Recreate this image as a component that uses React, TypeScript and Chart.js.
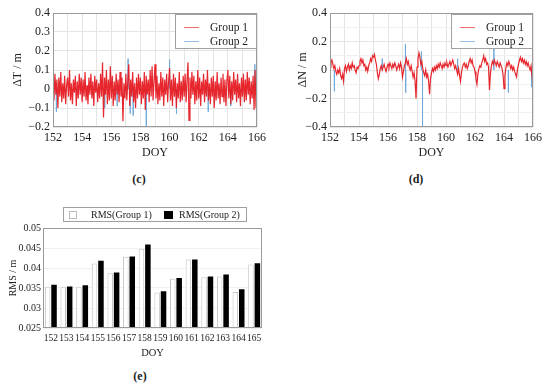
import React, { useEffect, useRef } from "react";
import { Chart, registerables } from "chart.js";

Chart.register(...registerables);

// ---------- Data ----------
const doyStart = 152;
const doyEnd = 166;
const samplesPerDay = 15;

// (c) ΔT, Group 1 (one value per 1/15 day, DOY 152.0 … 166.0)
const dT_group1: number[] = [
  0.04, -0.06, 0.08, -0.03, 0.05, -0.10, 0.06, -0.04, 0.09, -0.07, 0.03, -0.05, 0.07, -0.08, 0.02,
  0.06, -0.04, 0.10, -0.06, 0.03, -0.08, 0.05, -0.02, 0.07, -0.09, 0.04, -0.05, 0.08, -0.03, 0.06,
  -0.07, 0.05, -0.04, 0.09, -0.06, 0.02, -0.08, 0.06, -0.03, 0.08, -0.05, 0.04, -0.09, 0.07, -0.02,
  0.05, -0.07, 0.03, -0.05, 0.08, -0.04, 0.14, -0.15, 0.06, -0.03, 0.10, -0.08, 0.05, -0.06, 0.12,
  -0.05, 0.07, -0.09, 0.04, -0.06, 0.08, -0.03, 0.05, -0.07, 0.09, -0.04, 0.06, -0.17, 0.03, -0.05,
  0.08, -0.06, 0.04, 0.13, -0.09, 0.05, -0.04, 0.09, -0.07, 0.03, -0.10, 0.06, -0.05, 0.08, -0.03,
  0.06, -0.08, 0.04, -0.05, 0.09, -0.11, 0.07, -0.03, 0.05, -0.07, 0.10, -0.04, 0.12, -0.06, 0.04,
  0.13, -0.05, 0.07, -0.08, 0.03, -0.06, 0.09, -0.04, 0.06, -0.09, 0.05, -0.03, 0.08, -0.07, 0.04,
  0.11, -0.06, 0.05, -0.09, 0.08, -0.04, 0.06, -0.10, 0.03, -0.05, 0.09, -0.07, 0.04, -0.06, 0.07,
  -0.04, 0.08, -0.07, 0.05, 0.14, -0.165, 0.06, -0.05, 0.09, -0.03, 0.07, -0.08, 0.04, -0.06, 0.10,
  -0.05, 0.06, -0.09, 0.04, -0.03, 0.08, -0.07, 0.05, -0.04, 0.10, -0.06, 0.03, -0.08, 0.06, -0.04,
  0.07, -0.10, 0.04, -0.06, 0.09, -0.05, 0.03, -0.08, 0.06, -0.04, 0.08, -0.07, 0.05, -0.09, 0.04,
  0.10, -0.05, 0.07, -0.08, 0.04, -0.06, 0.09, -0.03, 0.05, -0.07, 0.08, -0.05, 0.03, -0.09, 0.06,
  -0.04, 0.08, -0.07, 0.05, -0.06, 0.09, -0.03, 0.06, -0.08, 0.04, -0.05, 0.07, -0.11, 0.10, -0.10,
  0.05,
];

// (c) ΔT, Group 2 — only the excursions that show beyond Group 1
const dT_group2_doy: number[] = [152.23, 155.55, 156.4, 157.15, 157.3, 157.5, 158.4, 160.0, 160.47, 162.65, 164.2, 165.85];
const dT_group2_val: number[] = [-0.12, -0.1, -0.09, 0.16, -0.13, -0.14, -0.2, 0.155, -0.13, -0.12, -0.09, 0.13];

// (d) ΔN, Group 1
const dN_group1: number[] = [
  0.02, 0.05, 0.07, 0.04, 0.01, 0.03, -0.01, -0.03, 0.00, -0.02, 0.01, -0.04, -0.06, -0.03, -0.08,
  0.01, 0.03, -0.01, 0.02, 0.04, 0.00, 0.03, 0.01, 0.05, 0.02, 0.03, 0.00, -0.02, 0.02, 0.01,
  0.03, 0.06, 0.08, 0.05, 0.07, 0.03, 0.04, 0.00, 0.02, -0.01, 0.03, 0.05, 0.08, 0.06, 0.10,
  0.09, 0.11, 0.07, 0.04, -0.02, -0.06, -0.03, 0.01, 0.03, 0.00, 0.02, 0.04, 0.01, -0.01, 0.02,
  0.04, 0.02, 0.05, 0.03, 0.01, 0.04, 0.02, 0.05, 0.03, 0.00, 0.02, 0.04, 0.01, 0.05, 0.02,
  -0.05, -0.01, 0.03, 0.05, 0.08, 0.04, 0.06, 0.02, 0.00, 0.03, -0.01, -0.05, -0.02, -0.08, -0.20,
  0.02, 0.08, 0.12, 0.09, 0.04, 0.06, 0.01, -0.02, -0.04, 0.00, -0.05, -0.03, -0.08, -0.17, -0.06,
  -0.02, 0.01, -0.01, 0.02, 0.00, 0.03, 0.01, 0.04, 0.02, 0.05, 0.03, 0.01, 0.04, 0.02, 0.05,
  0.03, 0.05, 0.02, 0.04, 0.06, 0.03, 0.05, 0.07, 0.04, 0.01, 0.03, 0.00, -0.03, 0.01, -0.04,
  -0.08, -0.02, 0.02, 0.04, 0.05, 0.02, 0.04, 0.01, 0.03, 0.06, 0.08, 0.05, 0.07, 0.03, 0.02,
  -0.01, -0.06, -0.10, -0.03, 0.01, 0.03, 0.02, 0.05, 0.07, 0.10, 0.06, 0.08, 0.04, 0.05, 0.02,
  -0.14, -0.02, 0.03, 0.06, 0.04, 0.07, 0.05, 0.03, 0.06, 0.04, 0.02, 0.05, 0.03, 0.01, -0.03,
  -0.13, -0.04, 0.02, 0.05, 0.03, 0.06, 0.04, 0.01, 0.03, 0.00, 0.02, -0.01, -0.03, -0.05, 0.01,
  0.04, 0.07, 0.09, 0.06, 0.08, 0.05, 0.07, 0.04, 0.06, 0.03, 0.05, 0.02, 0.00, 0.03, -0.04,
  -0.10,
];

// (d) ΔN, Group 2 excursions
const dN_group2_doy: number[] = [152.3, 155.6, 157.2, 157.22, 158.3, 158.38, 160.8, 163.3, 164.3, 165.9];
const dN_group2_val: number[] = [-0.15, 0.08, 0.18, -0.16, 0.13, -0.4, 0.08, 0.19, -0.16, -0.12];

// (e) RMS per day
const rmsDays: string[] = ["152", "153", "154", "155", "156", "157", "158", "159", "160", "161", "162", "163", "164", "165"];
const rmsGroup1: number[] = [0.0353, 0.0352, 0.0352, 0.0411, 0.0387, 0.0428, 0.0448, 0.0339, 0.0373, 0.0421, 0.0377, 0.0379, 0.034, 0.0409];
const rmsGroup2: number[] = [0.0358, 0.0354, 0.0357, 0.0418, 0.0389, 0.0429, 0.0459, 0.0342, 0.0375, 0.0421, 0.0379, 0.0384, 0.0347, 0.0412];

// ---------- Styles ----------
const SERIF = "'Liberation Serif', 'Times New Roman', serif";
const RED = "rgba(228, 22, 28, 0.92)";
const BLUE = "rgb(112, 168, 218)";
const GRID = "#e4e4e4";
const GRID_MINOR = "#f0f0f0";
const FRAME = "#9a9a9a";

const toSeries = (vals: number[]) =>
  vals.map((y, i) => ({ x: doyStart + i / samplesPerDay, y }));

const toSpikes = (doys: number[], vals: number[]) => {
  const out: { x: number; y: number | null }[] = [];
  doys.forEach((d, i) => {
    out.push({ x: d, y: 0 });
    out.push({ x: d, y: vals[i] });
    out.push({ x: d + 0.005, y: 0 });
    out.push({ x: d + 0.006, y: null });
  });
  return out;
};

const fmtMinus = (v: number, digits: number) => {
  const n = parseFloat(v.toFixed(digits));
  if (n === 0) return "0";
  return n < 0 ? "\u2212" + String(-n) : String(n);
};

const framePlugin = {
  id: "frame",
  afterDraw(chart: any) {
    const { ctx, chartArea: a } = chart;
    ctx.save();
    ctx.strokeStyle = FRAME;
    ctx.lineWidth = 1;
    ctx.strokeRect(Math.round(a.left) + 0.5, Math.round(a.top) + 0.5, Math.round(a.right - a.left) - 1, Math.round(a.bottom - a.top) - 1);
    ctx.restore();
  },
};

const lineLegendPlugin = {
  id: "lineLegend",
  afterDraw(chart: any) {
    const { ctx, chartArea: a } = chart;
    const w = 82, h = 35;
    const x0 = a.right - w, y0 = a.top + 1;
    ctx.save();
    ctx.fillStyle = "#fff";
    ctx.fillRect(x0, y0, w, h);
    ctx.strokeStyle = "#a0a0a0";
    ctx.lineWidth = 1;
    ctx.strokeRect(x0 + 0.5, y0 + 0.5, w - 1, h - 1);
    const items = [
      { label: "Group 1", color: "rgb(238, 110, 110)", y: y0 + 13 },
      { label: "Group 2", color: "rgb(150, 190, 228)", y: y0 + 27 },
    ];
    ctx.font = `11.5px ${SERIF}`;
    ctx.textBaseline = "middle";
    items.forEach((it) => {
      ctx.strokeStyle = it.color;
      ctx.beginPath();
      ctx.moveTo(x0 + 9, Math.round(it.y) + 0.5);
      ctx.lineTo(x0 + 24, Math.round(it.y) + 0.5);
      ctx.stroke();
      ctx.fillStyle = "#222";
      ctx.fillText(it.label, x0 + 35, it.y + 0.5);
    });
    ctx.restore();
  },
};

const barLegendPlugin = {
  id: "barLegend",
  afterDraw(chart: any) {
    const { ctx } = chart;
    const x0 = 63, y0 = 17, w = 184, h = 15;
    ctx.save();
    ctx.fillStyle = "#fff";
    ctx.fillRect(x0, y0, w, h);
    ctx.strokeStyle = "#a0a0a0";
    ctx.lineWidth = 1;
    ctx.strokeRect(x0 + 0.5, y0 + 0.5, w - 1, h - 1);
    ctx.font = `10px ${SERIF}`;
    ctx.textBaseline = "middle";
    ctx.strokeStyle = "#bbb";
    ctx.strokeRect(69.5, y0 + 4.5, 7, 7);
    ctx.fillStyle = "#222";
    ctx.fillText("RMS(Group 1)", 91, y0 + 8);
    ctx.fillStyle = "#000";
    ctx.fillRect(164, y0 + 4, 9, 8);
    ctx.fillStyle = "#222";
    ctx.fillText("RMS(Group 2)", 179, y0 + 8);
    ctx.restore();
  },
};

function useChart(ref: React.RefObject<HTMLCanvasElement | null>, make: () => any) {
  useEffect(() => {
    let chart: any = null;
    let cancelled = false;
    const build = () => {
      if (cancelled || !ref.current) return;
      chart = new Chart(ref.current, make());
    };
    const fonts: any = (document as any).fonts;
    if (fonts && fonts.load) {
      Promise.all([
        fonts.load("12px 'Liberation Serif'"),
        fonts.load("bold 12px 'Liberation Serif'"),
      ]).then(build, build);
    } else {
      build();
    }
    return () => {
      cancelled = true;
      if (chart) chart.destroy();
    };
  }, []);
}

function lineConfig(
  g1: number[],
  spikeDoy: number[],
  spikeVal: number[],
  yMin: number,
  yMax: number,
  labelStep: number,
  yTitle: string,
  yTitlePad: number,
  leftWidth: number,
  rightPad: number
) {
  return {
    type: "line",
    data: {
      datasets: [
        {
          label: "Group 2",
          data: toSpikes(spikeDoy, spikeVal),
          borderColor: BLUE,
          borderWidth: 1,
          pointRadius: 0,
          spanGaps: false,
          order: 2,
        },
        {
          label: "Group 1",
          data: toSeries(g1),
          borderColor: RED,
          borderWidth: 1.2,
          pointRadius: 0,
          order: 1,
        },
      ],
    },
    options: {
      responsive: false,
      animation: false,
      devicePixelRatio: 1,
      parsing: false,
      normalized: true,
      layout: { padding: { top: 13, right: rightPad, left: 0, bottom: 0 } },
      plugins: { legend: { display: false }, tooltip: { enabled: false } },
      scales: {
        x: {
          type: "linear",
          min: doyStart,
          max: doyEnd,
          afterFit: (s: any) => { s.height = 38; },
          ticks: {
            stepSize: 1,
            autoSkip: false,
            maxRotation: 0,
            padding: 4,
            color: "#222",
            font: { family: SERIF, size: 12 },
            callback: (v: number) => (Math.round(v) % 2 === 0 ? String(Math.round(v)) : ""),
          },
          grid: { color: GRID, drawTicks: false },
          border: { display: false },
          title: { display: true, text: "DOY", color: "#222", font: { family: SERIF, size: 12 }, padding: { top: 0, bottom: 5 } },
        },
        y: {
          min: yMin,
          max: yMax,
          afterFit: (s: any) => { s.width = leftWidth; },
          ticks: {
            stepSize: 0.1,
            autoSkip: false,
            padding: 3,
            color: "#222",
            font: { family: SERIF, size: 12 },
            callback: (v: number) => {
              const k = Math.round(v * 10);
              return k % Math.round(labelStep * 10) === 0 ? fmtMinus(v, 2) : "";
            },
          },
          grid: {
            drawTicks: false,
            color: (c: any) => {
              const k = Math.round((c.tick?.value ?? 0) * 10);
              return k % Math.round(labelStep * 10) === 0 ? GRID : GRID_MINOR;
            },
          },
          border: { display: false },
          title: { display: true, text: yTitle, color: "#222", font: { family: SERIF, size: 12 }, padding: { top: yTitlePad, bottom: 0 } },
        },
      },
    },
    plugins: [framePlugin, lineLegendPlugin],
  };
}

function barConfig() {
  return {
    type: "bar",
    data: {
      labels: rmsDays,
      datasets: [
        {
          label: "RMS(Group 1)",
          data: rmsGroup1,
          backgroundColor: "#ffffff",
          borderColor: "#c4c4c4",
          borderWidth: 1,
          categoryPercentage: 0.82,
          barPercentage: 0.86,
        },
        {
          label: "RMS(Group 2)",
          data: rmsGroup2,
          backgroundColor: "#000000",
          borderColor: "#000000",
          borderWidth: 0,
          categoryPercentage: 0.82,
          barPercentage: 0.86,
        },
      ],
    },
    options: {
      responsive: false,
      animation: false,
      devicePixelRatio: 1,
      layout: { padding: { top: 38, right: 13, left: 0, bottom: 0 } },
      plugins: { legend: { display: false }, tooltip: { enabled: false } },
      scales: {
        x: {
          afterFit: (s: any) => { s.height = 37; },
          ticks: { padding: 5, color: "#222", maxRotation: 0, autoSkip: false, font: { family: SERIF, size: 9.5 } },
          grid: { display: false, drawTicks: false },
          border: { display: false },
          title: { display: true, text: "DOY", color: "#222", font: { family: SERIF, size: 10.5 }, padding: { top: 0, bottom: 5 } },
        },
        y: {
          min: 0.025,
          max: 0.05,
          afterFit: (s: any) => { s.width = 43; },
          ticks: {
            stepSize: 0.005,
            padding: 2,
            color: "#222",
            font: { family: SERIF, size: 10 },
            callback: (v: number) => String(parseFloat(v.toFixed(3))),
          },
          grid: { color: GRID_MINOR, drawTicks: false },
          border: { display: false },
          title: { display: true, text: "RMS / m", color: "#222", font: { family: SERIF, size: 10 }, padding: { top: 7, bottom: 0 } },
        },
      },
    },
    plugins: [framePlugin, barLegendPlugin],
  };
}

const captionStyle: React.CSSProperties = {
  position: "absolute",
  fontFamily: SERIF,
  fontWeight: "bold",
  fontSize: 12,
  color: "#222",
  transform: "translate(-50%, -50%)",
  lineHeight: "14px",
};

export default function App() {
  const cRef = useRef<HTMLCanvasElement>(null);
  const dRef = useRef<HTMLCanvasElement>(null);
  const eRef = useRef<HTMLCanvasElement>(null);

  useChart(cRef, () => lineConfig(dT_group1, dT_group2_doy, dT_group2_val, -0.2, 0.4, 0.1, "\u0394T / m", 11, 53, 18));
  useChart(dRef, () => lineConfig(dN_group1, dN_group2_doy, dN_group2_val, -0.4, 0.4, 0.2, "\u0394N / m", 21, 55, 17));
  useChart(eRef, barConfig);

  return (
    <div style={{ position: "fixed", left: 0, top: 0, width: 550, height: 387, background: "#fff", overflow: "hidden" }}>
      <canvas ref={cRef} width={275} height={165} style={{ position: "absolute", left: 0, top: 0, width: 275, height: 165 }} />
      <canvas ref={dRef} width={275} height={165} style={{ position: "absolute", left: 275, top: 0, width: 275, height: 165 }} />
      <canvas ref={eRef} width={275} height={175} style={{ position: "absolute", left: 0, top: 190, width: 275, height: 175 }} />
      <div style={{ ...captionStyle, left: 139, top: 179 }}>(c)</div>
      <div style={{ ...captionStyle, left: 416, top: 179 }}>(d)</div>
      <div style={{ ...captionStyle, left: 140, top: 376 }}>(e)</div>
    </div>
  );
}
